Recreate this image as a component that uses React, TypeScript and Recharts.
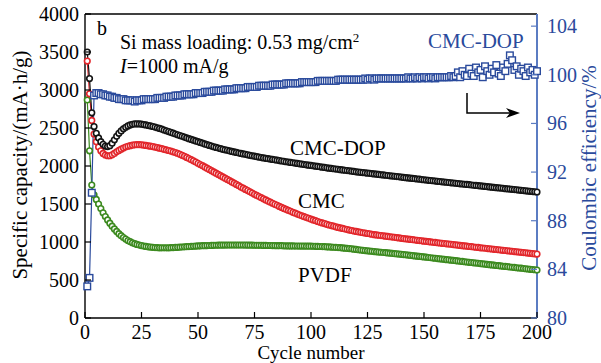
import { ComposedChart, Line, XAxis, YAxis, ReferenceLine } from "recharts";

// specific capacity (mA·h/g), cycles 1..200
const cmcDop = [
  3500, 3150, 2700, 2520, 2430, 2370, 2320, 2285, 2262, 2255,
  2268, 2300, 2345, 2390, 2430, 2462, 2490, 2510, 2527, 2540,
  2548, 2553, 2555, 2553, 2550, 2545, 2540, 2533, 2527, 2520,
  2512, 2503, 2494, 2484, 2474, 2464, 2453, 2443, 2432, 2421,
  2411, 2400, 2390, 2380, 2370, 2360, 2350, 2340, 2330, 2320,
  2310, 2300, 2290, 2280, 2271, 2262, 2253, 2244, 2236, 2228,
  2220, 2213, 2206, 2199, 2192, 2185, 2178, 2171, 2165, 2159,
  2153, 2147, 2141, 2135, 2129, 2123, 2117, 2111, 2106, 2101,
  2096, 2091, 2086, 2081, 2076, 2071, 2066, 2061, 2056, 2052,
  2047, 2043, 2038, 2034, 2029, 2025, 2020, 2016, 2011, 2007,
  2003, 1998, 1994, 1989, 1985, 1981, 1976, 1972, 1968, 1964,
  1960, 1956, 1952, 1948, 1944, 1940, 1936, 1932, 1928, 1924,
  1920, 1917, 1913, 1910, 1906, 1903, 1899, 1896, 1892, 1889,
  1885, 1882, 1878, 1875, 1871, 1868, 1864, 1861, 1857, 1854,
  1850, 1847, 1843, 1840, 1836, 1833, 1829, 1826, 1822, 1819,
  1816, 1812, 1809, 1806, 1802, 1799, 1796, 1792, 1789, 1786,
  1783, 1779, 1776, 1773, 1770, 1766, 1763, 1760, 1757, 1754,
  1750, 1747, 1744, 1741, 1738, 1734, 1731, 1728, 1725, 1722,
  1718, 1715, 1712, 1709, 1706, 1702, 1699, 1696, 1693, 1690,
  1686, 1683, 1680, 1677, 1674, 1670, 1667, 1664, 1661, 1658,
];

const cmc = [
  3380, 2950, 2600, 2420, 2320, 2250, 2200, 2165, 2145, 2135,
  2135, 2148, 2166, 2186, 2205, 2222, 2237, 2250, 2260, 2268,
  2274, 2278, 2280, 2280, 2278, 2275, 2271, 2266, 2261, 2255,
  2249, 2242, 2235, 2228, 2220, 2212, 2204, 2196, 2187, 2177,
  2166, 2154, 2141, 2127, 2113, 2098, 2083, 2068, 2052, 2036,
  2020, 2004, 1988, 1972, 1955, 1939, 1922, 1906, 1889, 1873,
  1856, 1840, 1823, 1807, 1790, 1774, 1757, 1741, 1724, 1708,
  1692, 1676, 1660, 1644, 1628, 1613, 1598, 1583, 1568, 1553,
  1538, 1524, 1510, 1496, 1482, 1468, 1455, 1442, 1429, 1416,
  1403, 1391, 1379, 1367, 1355, 1344, 1333, 1322, 1311, 1300,
  1290, 1280, 1270, 1260, 1251, 1242, 1233, 1224, 1216, 1208,
  1200, 1192, 1185, 1178, 1171, 1164, 1157, 1151, 1145, 1139,
  1133, 1127, 1122, 1117, 1112, 1107, 1102, 1097, 1093, 1089,
  1085, 1081, 1077, 1073, 1069, 1065, 1061, 1057, 1053, 1049,
  1045, 1041, 1037, 1034, 1030, 1026, 1022, 1019, 1015, 1011,
  1008, 1004, 1001, 997, 994, 990, 987, 983, 980, 976,
  973, 969, 966, 962, 959, 955, 952, 948, 945, 941,
  938, 934, 931, 928, 924, 921, 918, 914, 911, 908,
  904, 901, 898, 894, 891, 888, 884, 881, 878, 874,
  871, 868, 864, 861, 858, 854, 851, 848, 844, 841,
];

const pvdf = [
  2870, 2200, 1750, 1620, 1560, 1500, 1440, 1385, 1335, 1290,
  1248, 1208, 1172, 1139, 1110, 1083, 1059, 1038, 1020, 1004,
  990, 978, 968, 960, 953, 947, 942, 937, 933, 930,
  927, 925, 924, 923, 923, 923, 924, 925, 926, 928,
  930, 932, 934, 936, 938, 940, 942, 944, 946, 948,
  950, 951, 952, 953, 954, 955, 956, 957, 958, 958,
  959, 959, 960, 960, 960, 960, 960, 960, 960, 960,
  959, 959, 958, 958, 957, 957, 956, 956, 955, 955,
  954, 954, 953, 953, 952, 951, 951, 950, 949, 948,
  948, 948, 947, 947, 946, 946, 946, 945, 945, 945,
  944, 943, 942, 941, 940, 938, 937, 935, 933, 931,
  929, 927, 925, 922, 919, 916, 913, 910, 906, 902,
  898, 895, 891, 887, 884, 880, 877, 874, 871, 868,
  865, 862, 859, 856, 853, 850, 847, 844, 841, 838,
  834, 831, 828, 824, 821, 817, 814, 810, 807, 803,
  800, 796, 793, 789, 786, 782, 779, 775, 772, 768,
  765, 761, 758, 754, 751, 747, 744, 740, 737, 733,
  730, 726, 723, 719, 716, 712, 709, 705, 702, 698,
  695, 691, 688, 685, 681, 678, 675, 671, 668, 665,
  661, 658, 655, 651, 648, 645, 641, 638, 635, 631,
];

// coulombic efficiency of CMC-DOP (%)
const ceDop = [
  82.6, 83.3, 90.3, 98.3, 98.5, 98.5, 98.4, 98.4, 98.3, 98.3,
  98.2, 98.2, 98.1, 98.1, 98.0, 98.0, 98.0, 97.9, 97.9, 97.9,
  97.9, 97.8, 97.9, 97.9, 97.9, 98.0, 98.0, 98.0, 98.0, 98.0,
  98.0, 98.1, 98.1, 98.1, 98.1, 98.2, 98.2, 98.2, 98.2, 98.3,
  98.3, 98.3, 98.3, 98.4, 98.4, 98.4, 98.4, 98.4, 98.5, 98.5,
  98.5, 98.5, 98.6, 98.6, 98.6, 98.6, 98.7, 98.7, 98.7, 98.7,
  98.7, 98.8, 98.8, 98.8, 98.8, 98.8, 98.9, 98.9, 98.9, 98.9,
  98.9, 99.0, 99.0, 99.0, 99.0, 99.0, 99.1, 99.1, 99.1, 99.1,
  99.1, 99.1, 99.2, 99.2, 99.2, 99.2, 99.2, 99.2, 99.3, 99.3,
  99.3, 99.3, 99.3, 99.3, 99.3, 99.4, 99.4, 99.4, 99.4, 99.4,
  99.4, 99.4, 99.5, 99.5, 99.5, 99.5, 99.5, 99.5, 99.5, 99.5,
  99.5, 99.6, 99.6, 99.6, 99.6, 99.6, 99.6, 99.6, 99.6, 99.6,
  99.6, 99.6, 99.6, 99.7, 99.6, 99.7, 99.7, 99.6, 99.7, 99.7,
  99.7, 99.7, 99.7, 99.7, 99.7, 99.7, 99.7, 99.7, 99.7, 99.7,
  99.7, 99.7, 99.8, 99.7, 99.7, 99.8, 99.7, 99.8, 99.7, 99.8,
  99.8, 99.7, 99.8, 99.8, 99.7, 99.8, 99.8, 99.8, 99.8, 99.8,
  99.8, 99.9, 99.8, 99.9, 100.2, 99.8, 100.3, 100.0, 99.9, 100.5,
  100.1, 99.9, 100.6, 100.2, 100.4, 99.8, 100.7, 100.3, 100.0, 100.5,
  100.2, 100.8, 100.1, 99.9, 100.6, 100.3, 100.9, 101.6, 101.2, 100.4,
  100.7, 100.0, 100.5, 100.3, 99.9, 100.6, 100.2, 100.4, 100.0, 100.3,
];

const xTicks = [0, 25, 50, 75, 100, 125, 150, 175, 200];
const capTicks = [0, 500, 1000, 1500, 2000, 2500, 3000, 3500, 4000];
const ceTicks = [80, 84, 88, 92, 96, 100, 104];

const BLACK = "#141414";
const RED = "#e2262b";
const GREEN = "#3c8a1f";
const BLUE = "#2a4a9c";
const AXIS_BLUE = "#5b7cc2";
const FONT = "'Liberation Serif', 'Times New Roman', serif";

const data = cmcDop.map((v, i) => ({
  cycle: i + 1,
  dop: v,
  cmc: cmc[i],
  pvdf: pvdf[i],
  ce: ceDop[i],
}));

const circleDot = (color: string) => (props: any) => (
  <circle
    key={`d-${color}-${props.index}`}
    cx={props.cx}
    cy={props.cy}
    r={2.8}
    fill="#fff"
    stroke={color}
    strokeWidth={1.6}
  />
);

const squareDot = (props: any) => (
  <rect
    key={`s-${props.index}`}
    x={props.cx - 3.3}
    y={props.cy - 3.3}
    width={6.6}
    height={6.6}
    fill="#fff"
    stroke={BLUE}
    strokeWidth={1.4}
  />
);

const tickText = { fontFamily: FONT, fontSize: 20 };

function LeftTick({ x, y, payload }: any) {
  const ax = x + 6;
  return (
    <g>
      <line x1={ax} y1={y} x2={ax + 6} y2={y} stroke="#000" strokeWidth={1.2} />
      <text x={x} y={y} dy="0.35em" textAnchor="end" style={tickText} fill="#000">
        {payload.value}
      </text>
    </g>
  );
}

function RightTick({ x, y, payload }: any) {
  const ax = x - 10;
  return (
    <g>
      <line x1={ax} y1={y} x2={ax - 6} y2={y} stroke={AXIS_BLUE} strokeWidth={1.2} />
      <text x={x} y={y} dy="0.35em" textAnchor="start" style={tickText} fill={BLUE}>
        {payload.value}
      </text>
    </g>
  );
}

function BottomTick({ x, y, payload }: any) {
  const ay = y - 7;
  return (
    <g>
      <line x1={x} y1={ay} x2={x} y2={ay - 6} stroke="#000" strokeWidth={1.2} />
      <text x={x} y={y} dy="0.7em" textAnchor="middle" style={tickText} fill="#000">
        {payload.value}
      </text>
    </g>
  );
}

export default function App() {
  return (
    <div style={{ position: "absolute", left: 0, top: 0, width: 601, height: 363, background: "#fff" }}>
      <ComposedChart width={601} height={363} data={data} margin={{ top: 14, right: 0, bottom: 0, left: 0 }}>
        <XAxis
          dataKey="cycle"
          type="number"
          domain={[0, 200]}
          ticks={xTicks}
          interval={0}
          height={45}
          tickSize={0}
          tickMargin={7}
          tick={<BottomTick />}
          axisLine={{ stroke: "#000", strokeWidth: 1.4 }}
        />
        <YAxis
          yAxisId="left"
          domain={[0, 4000]}
          ticks={capTicks}
          interval={0}
          width={85}
          tickSize={0}
          tickMargin={6}
          tick={<LeftTick />}
          axisLine={{ stroke: "#000", strokeWidth: 1.4 }}
        />
        <YAxis
          yAxisId="right"
          orientation="right"
          domain={[80, 105]}
          ticks={ceTicks}
          interval={0}
          width={64}
          tickSize={0}
          tickMargin={10}
          tick={<RightTick />}
          axisLine={{ stroke: AXIS_BLUE, strokeWidth: 2 }}
        />
        <ReferenceLine yAxisId="left" y={4000} stroke="#000" strokeWidth={1.4} />
        <Line yAxisId="left" dataKey="pvdf" stroke={GREEN} strokeWidth={1.2} dot={circleDot(GREEN)} activeDot={false} isAnimationActive={false} />
        <Line yAxisId="left" dataKey="cmc" stroke={RED} strokeWidth={1.2} dot={circleDot(RED)} activeDot={false} isAnimationActive={false} />
        <Line yAxisId="left" dataKey="dop" stroke={BLACK} strokeWidth={1.2} dot={circleDot(BLACK)} activeDot={false} isAnimationActive={false} />
        <Line yAxisId="right" dataKey="ce" stroke={BLUE} strokeWidth={1.2} dot={squareDot} activeDot={false} isAnimationActive={false} />
      </ComposedChart>
      <svg
        width={601}
        height={363}
        style={{ position: "absolute", left: 0, top: 0, pointerEvents: "none", fontFamily: FONT }}
      >
        <text x={20} y={165} transform="rotate(-90 20 165)" textAnchor="middle" dominantBaseline="central" fontSize={21} fill="#000">
          Specific capacity/(mA·h/g)
        </text>
        <text x={589} y={168} transform="rotate(-90 589 168)" textAnchor="middle" dominantBaseline="central" fontSize={21} fill={BLUE}>
          Coulombic efficiency/%
        </text>
        <text x={311} y={359} textAnchor="middle" fontSize={19} fill="#000">
          Cycle number
        </text>
        <text x={97} y={35} fontSize={20} fill="#000">b</text>
        <text x={120} y={49} fontSize={20} fill="#000">
          Si mass loading: 0.53 mg/cm<tspan dy={-7} fontSize={13}>2</tspan>
        </text>
        <text x={120} y={73} fontSize={20} fill="#000">
          <tspan fontStyle="italic">I</tspan>=1000 mA/g
        </text>
        <text x={428} y={48} fontSize={21} fill={BLUE}>CMC-DOP</text>
        <text x={290} y={155} fontSize={21} fill="#000">CMC-DOP</text>
        <text x={298} y={208} fontSize={21} fill="#000">CMC</text>
        <text x={298} y={282} fontSize={21} fill="#000">PVDF</text>
        <path d="M467 93 V113 H510" stroke="#000" strokeWidth={1.5} fill="none" />
        <polygon points="520,113 506,108 510,113 506,118" fill="#000" />
      </svg>
    </div>
  );
}
